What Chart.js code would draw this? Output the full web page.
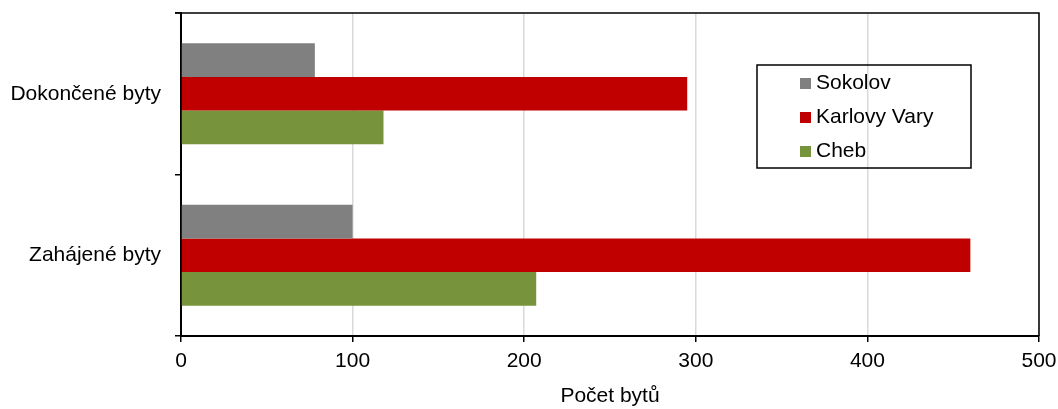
<!DOCTYPE html>
<html>
<head>
<meta charset="utf-8">
<script src="https://cdn.jsdelivr.net/npm/chart.js@4.4.1/dist/chart.umd.min.js"></script>
<style>
  html, body { margin: 0; padding: 0; background: #fff; }
  #wrap { width: 1058px; height: 409px; }
</style>
</head>
<body>
<div id="wrap"><canvas id="myChart" width="1058" height="409"></canvas></div>
<script>
const categories = ['Dokončené byty', 'Zahájené byty'];
const sokolov = [78, 100];
const karlovyVary = [295, 460];
const cheb = [118, 207];
const xTicks = [0, 100, 200, 300, 400, 500];

const FONT = '"Liberation Sans", Arial, sans-serif';
const FSIZE = 21;

// frame round the plot area + boxed legend like the original
const framePlugin = {
    id: 'frame',
    afterDraw(chart) {
        const c = chart.ctx;
        const a = chart.chartArea;
        c.save();
        c.strokeStyle = '#000';
        c.lineWidth = 1.5;
        c.beginPath();
        c.moveTo(175, a.top);
        c.lineTo(a.right, a.top);
        c.lineTo(a.right, a.bottom);
        c.stroke();

        // legend
        c.lineWidth = 1.5;
        c.strokeRect(757, 65, 214, 103);
        const items = chart.data.datasets;
        c.font = FSIZE + 'px ' + FONT;
        c.textBaseline = 'middle';
        c.textAlign = 'left';
        items.forEach((ds, i) => {
            const y = 83 + i * 34;
            c.fillStyle = ds.backgroundColor;
            c.fillRect(800, y - 5, 11, 11);
            c.fillStyle = '#000';
            c.fillText(ds.label, 816, y);
        });
        c.restore();
    }
};

// no extra room for overhanging tick labels, plot area is fixed by layout padding
const noPad = (scale) => {
    scale.paddingLeft = 0;
    scale.paddingRight = 0;
    scale.paddingTop = 0;
    scale.paddingBottom = 0;
};

const ctx = document.getElementById('myChart').getContext('2d');
const myChart = new Chart(ctx, {
    type: 'bar',
    data: {
        labels: categories,
        datasets: [{
            label: 'Sokolov',
            data: sokolov,
            backgroundColor: '#808080'
        }, {
            label: 'Karlovy Vary',
            data: karlovyVary,
            backgroundColor: '#c00000'
        }, {
            label: 'Cheb',
            data: cheb,
            backgroundColor: '#77933c'
        }]
    },
    options: {
        indexAxis: 'y',
        responsive: false,
        animation: false,
        categoryPercentage: 0.625,
        barPercentage: 1,
        layout: { padding: { top: 13, right: 19, left: 0, bottom: 0 } },
        plugins: {
            legend: { display: false },
            tooltip: { enabled: false }
        },
        scales: {
            x: {
                min: 0,
                max: 500,
                afterBuildTicks: (scale) => { scale.ticks = xTicks.map(v => ({ value: v })); },
                afterFit: (scale) => { scale.height = 73; noPad(scale); },
                grid: {
                    color: '#d9d9d9',
                    lineWidth: 1.5,
                    tickColor: '#000',
                    tickLength: 6
                },
                border: { color: '#000', width: 2 },
                ticks: {
                    color: '#000',
                    padding: 7,
                    maxRotation: 0,
                    font: { family: FONT, size: FSIZE }
                },
                title: {
                    display: true,
                    text: 'Počet bytů',
                    color: '#000',
                    padding: 0,
                    font: { family: FONT, size: FSIZE }
                }
            },
            y: {
                afterFit: (scale) => { scale.width = 181; noPad(scale); },
                grid: {
                    offset: true,
                    drawOnChartArea: false,
                    tickColor: '#000',
                    tickLength: 6,
                    lineWidth: 1.5
                },
                border: { color: '#000', width: 2 },
                ticks: {
                    color: '#000',
                    padding: 14,
                    font: { family: FONT, size: FSIZE }
                }
            }
        }
    },
    plugins: [framePlugin]
});
</script>
</body>
</html>
